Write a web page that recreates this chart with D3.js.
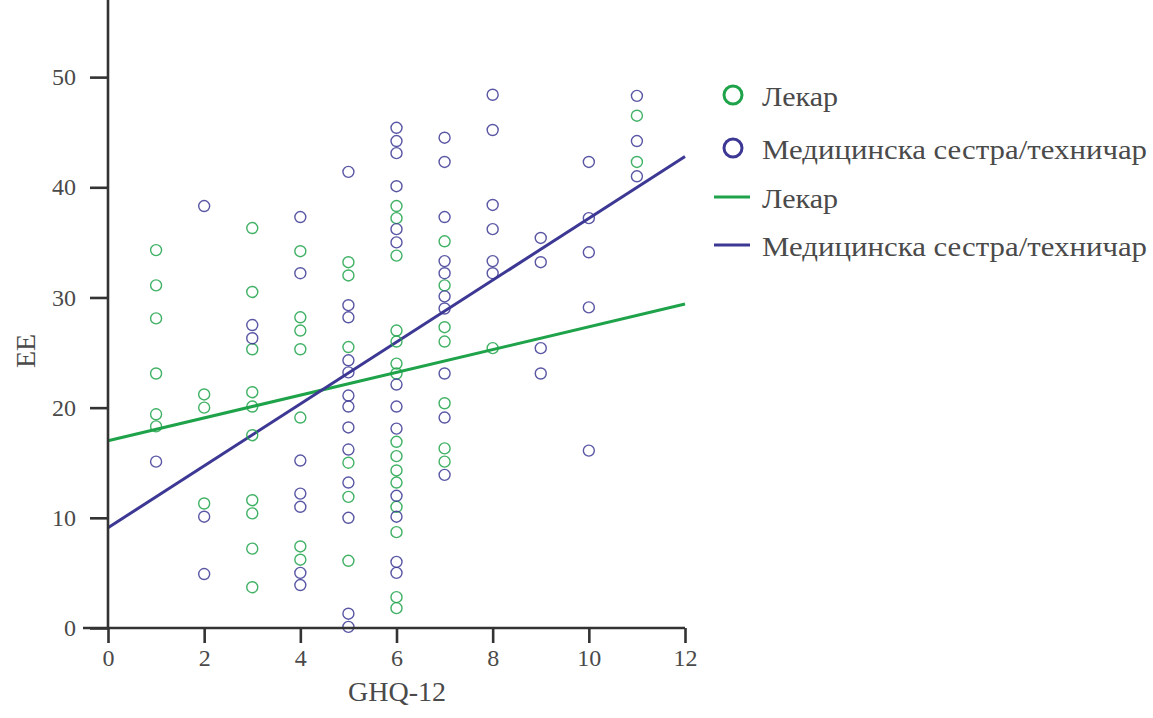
<!DOCTYPE html>
<html>
<head>
<meta charset="utf-8">
<script src="https://cdn.jsdelivr.net/npm/d3@7/dist/d3.min.js"></script>
<style>
  html, body { margin: 0; padding: 0; background: #fff; }
  svg { display: block; }
  text { font-family: "Liberation Serif", "Times New Roman", Times, serif; fill: #4a4a4a; }
</style>
</head>
<body>
<svg id="chart" width="1153" height="718"></svg>
<script>
// ---- Data ----
const xTicks = [0, 2, 4, 6, 8, 10, 12];
const yTicks = [0, 10, 20, 30, 40, 50];
const seriesNames = ["Лекар", "Медицинска сестра/техничар"];
const xLabel = "GHQ-12";
const yLabel = "EE";

// Лекар (doctor) points: [GHQ-12, EE]
const doctorX = [1,1,1,1,1,1, 2,2,2, 3,3,3,3,3,3,3,3,3,3, 4,4,4,4,4,4,4, 5,5,5,5,5,5,
  6,6,6,6,6,6,6,6,6,6,6,6,6,6,6, 7,7,7,7,7,7,7, 8, 11,11];
const doctorY = [34.3,31.1,28.1,23.1,19.4,18.3, 21.2,20.0,11.3,
  36.3,30.5,25.3,21.4,20.1,17.5,11.6,10.4,7.2,3.7,
  34.2,28.2,27.0,25.3,19.1,7.4,6.2,
  33.2,32.0,25.5,15.0,11.9,6.1,
  38.3,37.2,33.8,27.0,26.0,24.0,23.1,16.9,15.6,14.3,13.2,11.0,8.7,2.8,1.8,
  35.1,31.1,27.3,26.0,20.4,16.3,15.1,
  25.4,
  46.5,42.3];

// Медицинска сестра/техничар (nurse/technician) points
const nurseX = [1, 2,2,2, 3,3, 4,4,4,4,4,4,4,
  5,5,5,5,5,5,5,5,5,5,5,5,5,
  6,6,6,6,6,6,6,6,6,6,6,6,6,
  7,7,7,7,7,7,7,7,7,7, 8,8,8,8,8,8, 9,9,9,9, 10,10,10,10,10, 11,11,11];
const nurseY = [15.1, 38.3,10.1,4.9, 27.5,26.3,
  37.3,32.2,15.2,12.2,11.0,5.0,3.9,
  41.4,29.3,28.2,24.3,23.2,21.1,20.1,18.2,16.2,13.2,10.0,1.3,0.1,
  45.4,44.2,43.1,40.1,36.2,35.0,22.1,20.1,18.1,12.0,10.1,6.0,5.0,
  44.5,42.3,37.3,33.3,32.2,30.1,29.0,23.1,19.1,13.9,
  48.4,45.2,38.4,36.2,33.3,32.2,
  35.4,33.2,25.4,23.1,
  42.3,37.2,34.1,29.1,16.1,
  48.3,44.2,41.0];

// Fit lines: EE at GHQ-12 = 0 and 12
const fitX = [0, 12];
const doctorFit = [17.0, 29.4];
const nurseFit = [9.1, 42.8];

// ---- Styles ----
const green = "#1fa34a";
const purple = "#3c3894";
const axisColor = "#333";
const fontFam = '"Liberation Serif", "Times New Roman", Times, serif';

const svg = d3.select("#chart");
const x = d3.scaleLinear().domain([0, 12]).range([108, 685]);
const y = d3.scaleLinear().domain([0, 57]).range([628, 0]);

// Regression lines
const line = d3.line().x(d => x(d[0])).y(d => y(d[1]));
svg.append("path").datum(fitX.map((v, i) => [v, doctorFit[i]]))
  .attr("d", line).attr("fill", "none").attr("stroke", green).attr("stroke-width", 3);
svg.append("path").datum(fitX.map((v, i) => [v, nurseFit[i]]))
  .attr("d", line).attr("fill", "none").attr("stroke", purple).attr("stroke-width", 3);

// Points
function drawPoints(xs, ys, color) {
  svg.append("g").selectAll("circle")
    .data(xs.map((v, i) => [v, ys[i]]))
    .join("circle")
    .attr("cx", d => x(d[0]))
    .attr("cy", d => y(d[1]))
    .attr("r", 5.5)
    .attr("fill", "none")
    .attr("stroke", color)
    .attr("stroke-opacity", 0.85)
    .attr("stroke-width", 1.4);
}
drawPoints(doctorX, doctorY, green);
drawPoints(nurseX, nurseY, purple);

// Axes
const gx = svg.append("g").attr("transform", `translate(0,${y(0)})`)
  .call(d3.axisBottom(x).tickValues(xTicks).tickSize(15).tickSizeOuter(0).tickPadding(6));
gx.select(".domain").remove();
gx.selectAll(".tick line").attr("stroke", axisColor).attr("stroke-width", 2.6);
gx.selectAll(".tick text").attr("font-size", 24).attr("fill", "#4a4a4a")
  .attr("font-family", null).style("font-family", fontFam);
svg.append("line")
  .attr("x1", x(-0.52)).attr("x2", x(12)).attr("y1", y(0)).attr("y2", y(0))
  .attr("stroke", axisColor).attr("stroke-width", 2.6);

const gy = svg.append("g").attr("transform", `translate(${x(0)},0)`)
  .call(d3.axisLeft(y).tickValues(yTicks).tickSize(18).tickSizeOuter(0).tickPadding(14));
gy.select(".domain").remove();
gy.selectAll(".tick line").attr("stroke", axisColor).attr("stroke-width", 2.6);
gy.selectAll(".tick text").attr("font-size", 24).attr("fill", "#4a4a4a")
  .style("font-family", fontFam);
gx.attr("font-family", null);
gy.attr("font-family", null);
svg.append("line")
  .attr("x1", x(0)).attr("x2", x(0)).attr("y1", y(57)).attr("y2", y(0))
  .attr("stroke", axisColor).attr("stroke-width", 2.6);

// Axis titles
svg.append("text").attr("x", 397).attr("y", 701).attr("text-anchor", "middle")
  .attr("font-size", 28).text(xLabel);
svg.append("text").attr("transform", "translate(35,351) rotate(-90)")
  .attr("text-anchor", "middle").attr("font-size", 28).text(yLabel);

// Legend
const legend = svg.append("g");
const legendItems = [
  { type: "circle", color: green, name: seriesNames[0], cy: 95 },
  { type: "circle", color: purple, name: seriesNames[1], cy: 148 },
  { type: "line", color: green, name: seriesNames[0], cy: 197 },
  { type: "line", color: purple, name: seriesNames[1], cy: 245 }
];
legendItems.forEach(it => {
  if (it.type === "circle") {
    legend.append("circle").attr("cx", 733).attr("cy", it.cy).attr("r", 9)
      .attr("fill", "none").attr("stroke", it.color).attr("stroke-width", 3);
  } else {
    legend.append("line").attr("x1", 714).attr("x2", 750).attr("y1", it.cy).attr("y2", it.cy)
      .attr("stroke", it.color).attr("stroke-width", 3);
  }
  legend.append("text").attr("x", 762).attr("y", it.cy + 11)
    .attr("font-size", 28)
    .attr("textLength", it.name === seriesNames[0] ? 76 : 385)
    .attr("lengthAdjust", "spacingAndGlyphs")
    .text(it.name);
});
</script>
</body>
</html>
